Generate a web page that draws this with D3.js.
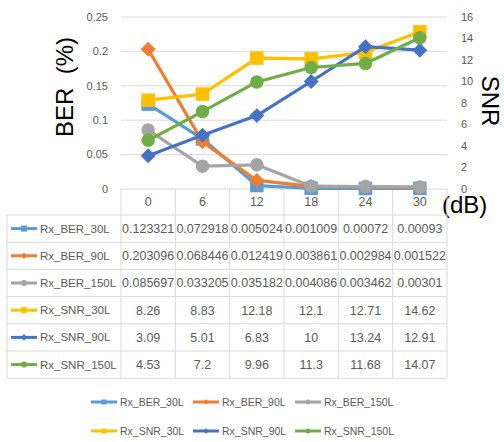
<!DOCTYPE html>
<html>
<head>
<meta charset="utf-8">
<script src="https://cdn.jsdelivr.net/npm/d3@7"></script>
<style>
  html, body { margin: 0; padding: 0; background: #fff; }
  svg { display: block; font-family: "Liberation Sans", Arial, sans-serif; }
</style>
</head>
<body>
<svg id="chart" width="504" height="442"></svg>
<script>
// Attenuation steps (dB)
const categories = ["0", "6", "12", "18", "24", "30"];

// BER series (%), left axis
const berNames = ["Rx_BER_30L", "Rx_BER_90L", "Rx_BER_150L"];
const ber30 = [0.123321, 0.072918, 0.005024, 0.001009, 0.00072, 0.00093];
const ber90 = [0.203096, 0.068446, 0.012419, 0.003861, 0.002984, 0.001522];
const ber150 = [0.085697, 0.033205, 0.035182, 0.004086, 0.003462, 0.00301];

// SNR series, right axis
const snrNames = ["Rx_SNR_30L", "Rx_SNR_90L", "Rx_SNR_150L"];
const snr30 = [8.26, 8.83, 12.18, 12.1, 12.71, 14.62];
const snr90 = [3.09, 5.01, 6.83, 10, 13.24, 12.91];
const snr150 = [4.53, 7.2, 9.96, 11.3, 11.68, 14.07];

// Table cell text as printed
const ber30Text = ["0.123321", "0.072918", "0.005024", "0.001009", "0.00072", "0.00093"];
const ber90Text = ["0.203096", "0.068446", "0.012419", "0.003861", "0.002984", "0.001522"];
const ber150Text = ["0.085697", "0.033205", "0.035182", "0.004086", "0.003462", "0.00301"];

const berTicks = [0, 0.05, 0.1, 0.15, 0.2, 0.25];
const snrTicks = [0, 2, 4, 6, 8, 10, 12, 14, 16];

const colors = ["#5B9BD5", "#ED7D31", "#A5A5A5", "#FFC000", "#4472C4", "#70AD47"];
const shapes = ["square", "diamond", "circle", "square", "diamond", "circle"];

const series = [
  { name: berNames[0], values: ber30, text: ber30Text, axis: "left" },
  { name: berNames[1], values: ber90, text: ber90Text, axis: "left" },
  { name: berNames[2], values: ber150, text: ber150Text, axis: "left" },
  { name: snrNames[0], values: snr30, text: snr30.map(String), axis: "right" },
  { name: snrNames[1], values: snr90, text: snr90.map(String), axis: "right" },
  { name: snrNames[2], values: snr150, text: snr150.map(String), axis: "right" }
].map((s, i) => ({ ...s, color: colors[i], shape: shapes[i] }));

const svg = d3.select("#chart");
const grid = "#D9D9D9";
const textCol = "#595959";

const plotLeft = 121, plotRight = 447, plotTop = 17, plotBottom = 189;
const tableLeft = 7, headerBottom = 215, rowH = 27.2;

const x = d3.scaleBand().domain(categories).range([plotLeft, plotRight]);
const yL = d3.scaleLinear().domain([0, 0.25]).range([plotBottom, plotTop]);
const yR = d3.scaleLinear().domain([0, 16]).range([plotBottom, plotTop]);

// Horizontal gridlines
svg.append("g").selectAll("line").data(berTicks.slice(1)).join("line")
  .attr("x1", plotLeft).attr("x2", plotRight)
  .attr("y1", d => yL(d)).attr("y2", d => yL(d))
  .attr("stroke", grid).attr("stroke-width", 1);

// Left axis labels
svg.append("g").selectAll("text").data(berTicks).join("text")
  .attr("x", 108).attr("y", d => yL(d)).attr("dy", "0.35em")
  .attr("text-anchor", "end").attr("font-size", 11).attr("fill", textCol)
  .text(d => String(d));

// Right axis labels
svg.append("g").selectAll("text").data(snrTicks).join("text")
  .attr("x", 461).attr("y", d => yR(d)).attr("dy", "0.35em")
  .attr("text-anchor", "start").attr("font-size", 11).attr("fill", textCol)
  .text(d => String(d));

// Axis titles
svg.append("text")
  .attr("transform", `translate(73,87) rotate(-90)`)
  .attr("text-anchor", "middle").attr("font-size", 24).attr("fill", "#000")
  .attr("xml:space", "preserve")
  .text("BER  (%)");
svg.append("text")
  .attr("transform", `translate(482,101) rotate(90)`)
  .attr("text-anchor", "middle").attr("font-size", 24).attr("fill", "#000")
  .text("SNR");
svg.append("text")
  .attr("x", 442).attr("y", 213)
  .attr("font-size", 24).attr("fill", "#000")
  .text("(dB)");

// Data table
const nRows = series.length;
const tableBottom = headerBottom + rowH * nRows;
const tg = svg.append("g");
// Header row border (category labels)
tg.append("line").attr("x1", plotLeft).attr("x2", plotRight)
  .attr("y1", plotBottom).attr("y2", plotBottom).attr("stroke", grid);
// Row lines
d3.range(nRows + 1).forEach(r => {
  const yy = headerBottom + r * rowH;
  tg.append("line").attr("x1", tableLeft).attr("x2", plotRight)
    .attr("y1", yy).attr("y2", yy).attr("stroke", grid);
});
// Column lines
const colEdges = categories.map(c => x(c)).concat([x(categories[categories.length - 1]) + x.bandwidth()]);
colEdges.forEach(cx => {
  tg.append("line").attr("x1", cx).attr("x2", cx)
    .attr("y1", plotBottom).attr("y2", tableBottom).attr("stroke", grid);
});
tg.append("line").attr("x1", tableLeft).attr("x2", tableLeft)
  .attr("y1", headerBottom).attr("y2", tableBottom).attr("stroke", grid);

// Category header labels
tg.selectAll("text.cat").data(categories).join("text").attr("class", "cat")
  .attr("x", d => x(d) + x.bandwidth() / 2).attr("y", (plotBottom + headerBottom) / 2)
  .attr("dy", "0.35em").attr("text-anchor", "middle")
  .attr("font-size", 12.5).attr("fill", textCol).text(d => d);

function marker(g, shape, cx, cy, size, color) {
  if (shape === "square") {
    g.append("rect").attr("x", cx - size / 2).attr("y", cy - size / 2)
      .attr("width", size).attr("height", size).attr("fill", color);
  } else if (shape === "diamond") {
    const h = size * 0.55;
    g.append("path")
      .attr("d", `M${cx},${cy - h}L${cx + h},${cy}L${cx},${cy + h}L${cx - h},${cy}Z`)
      .attr("fill", color);
  } else {
    g.append("circle").attr("cx", cx).attr("cy", cy).attr("r", size / 2).attr("fill", color);
  }
}

function legendKey(g, s, x0, cy, len, msize) {
  g.append("line").attr("x1", x0).attr("x2", x0 + len)
    .attr("y1", cy).attr("y2", cy)
    .attr("stroke", s.color).attr("stroke-width", 3);
  marker(g, s.shape, x0 + len / 2, cy, msize, s.color);
}

series.forEach((s, r) => {
  const cy = headerBottom + r * rowH + rowH / 2;
  legendKey(tg, s, 11, cy, 26, 6);
  tg.append("text").attr("x", 40).attr("y", cy).attr("dy", "0.35em")
    .attr("font-size", 11.5).attr("fill", textCol).text(s.name);
  categories.forEach((c, i) => {
    tg.append("text").attr("x", x(c) + x.bandwidth() / 2).attr("y", cy).attr("dy", "0.35em")
      .attr("text-anchor", "middle").attr("font-size", 12.5).attr("fill", textCol)
      .text(s.text[i]);
  });
});

// Series lines and markers
const pg = svg.append("g");
series.forEach(s => {
  const yS = s.axis === "left" ? yL : yR;
  const line = d3.line().x((d, i) => x(categories[i]) + x.bandwidth() / 2).y(d => yS(d));
  const g = pg.append("g");
  g.append("path").attr("d", line(s.values)).attr("fill", "none")
    .attr("stroke", s.color).attr("stroke-width", 3.2).attr("stroke-linejoin", "round");
  s.values.forEach((v, i) => {
    marker(g, s.shape, x(categories[i]) + x.bandwidth() / 2, yS(v), 13.5, s.color);
  });
});

// Bottom legend
const lg = svg.append("g");
const legendX = [91, 193, 295];
const legendY = [402, 431];
series.forEach((s, i) => {
  const lx = legendX[i % 3], ly = legendY[Math.floor(i / 3)];
  legendKey(lg, s, lx, ly, 26, 5);
  lg.append("text").attr("x", lx + 29).attr("y", ly).attr("dy", "0.35em")
    .attr("font-size", 10.5).attr("fill", textCol).text(s.name);
});
</script>
</body>
</html>
